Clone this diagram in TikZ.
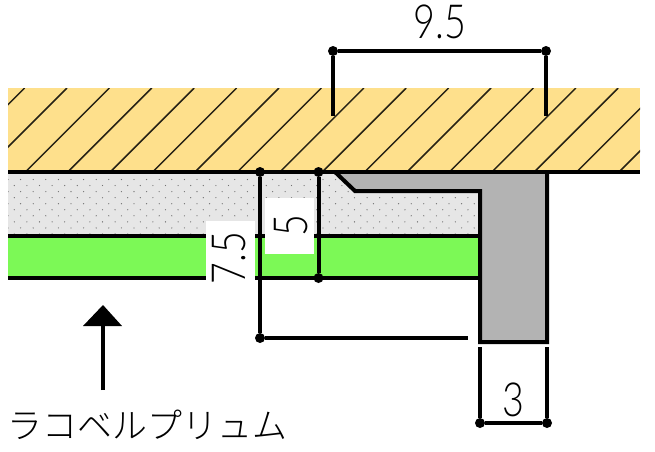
\documentclass[tikz,border=0pt]{standalone}
\usepackage{fontspec}
\usepackage{xcolor}
\usetikzlibrary{positioning}
\newfontfamily\dimfont[FakeStretch=0.8]{Lato Light}
\newfontfamily\jpfont{Noto Sans CJK JP Light}
\definecolor{wood}{HTML}{FEE08C}
\definecolor{fill-gray}{HTML}{E6E6E6}
\definecolor{fill-green}{HTML}{7CF956}
\definecolor{frame-gray}{HTML}{B3B3B3}
\tikzset{
	dimdot/.style={circle, fill=black, inner sep=0pt, minimum size=10pt},
	dimline/.style={line width=4pt, black},
	layerline/.style={line width=4pt, black},
	dimlabel/.style={inner sep=0pt, font=\dimfont\fontsize{47}{47}\selectfont},
	whitebox/.style={fill=white, inner sep=0pt}
}

\begin{document}
\begin{tikzpicture}[x=1pt, y=-1pt]
	\useasboundingbox (0,0) rectangle (655,451);

	% ceiling board with hatching
	\fill[wood] (8,88) rectangle (640,172);
	\begin{scope}
		\clip (8,88) rectangle (640,172);
		\foreach \hx in {0,...,19} {
			\draw[line width=1.5pt, black!85!wood] ({24.6+42.4*\hx},88) -- ++(-84,84);
		}
	\end{scope}

	% dotted layer and green layer
	\fill[fill-gray] (8,172) rectangle (480,236);
	\begin{scope}
		\clip (8,174) rectangle (478,234);
		\foreach \row in {0,...,9} {
			\foreach \col in {0,...,38} {
				\pgfmathsetmacro{\dotx}{8+12.6*\col+6.3*mod(\row,2)}
				\fill[black!55] (\dotx,{179.5+6.05*\row}) circle (0.65);
			}
		}
	\end{scope}
	\fill[fill-green] (8,236) rectangle (480,278);

	% metal frame
	\coordinate (f1) at (335,172);
	\coordinate (f2) at (355,191);
	\coordinate (f3) at (480,191);
	\coordinate (f4) at (480,342);
	\coordinate (f5) at (547,342);
	\coordinate (f6) at (547,172);
	\fill[frame-gray] (f1) -- (f2) -- (f3) -- (f4) -- (f5) -- (f6) -- cycle;
	\draw[layerline, line join=miter] (f1) -- (f2) -- (f3) -- (f4) -- (f5) -- (f6);

	% layer lines
	\coordinate (top-l) at (8,172);
	\coordinate (top-r) at (640,172);
	\coordinate (mid-l) at (8,236);
	\coordinate (mid-r) at (480,236);
	\coordinate (low-l) at (8,278);
	\coordinate (low-r) at (480,278);
	\draw[layerline] (top-l) -- (top-r);
	\draw[layerline] (mid-l) -- (mid-r);
	\draw[layerline] (low-l) -- (low-r);

	% white label patches
	\node[whitebox, minimum width=49pt, minimum height=64pt] at (230.5,253) (box75) {};
	\node[whitebox, minimum width=49pt, minimum height=56pt] at (289.5,226) (box5) {};

	% dimensions
	\node[dimdot] at (333,51) (w-l) {};
	\node[dimdot] at (546,51) (w-r) {};
	\coordinate (w-lb) at (333,116);
	\coordinate (w-rb) at (546,116);
	\draw[dimline] (w-lb) -- (w-l) -- (w-r) -- (w-rb);
	\node[dimlabel] at (440,22) (w-label) {9.5};

	\node[dimdot] at (260,172) (a-t) {};
	\node[dimdot] at (260,338) (a-b) {};
	\coordinate (a-e) at (468,338);
	\draw[dimline] (a-t) -- (a-b) -- (a-e);
	\node[dimlabel, rotate=90] at (229,258) (a-label) {7.5};

	\node[dimdot] at (318.5,172) (b-t) {};
	\node[dimdot] at (318.5,278) (b-b) {};
	\draw[dimline] (b-t) -- (b-b);
	\node[dimlabel, rotate=90] at (291,226) (b-label) {5};

	\node[dimdot] at (480,423) (c-l) {};
	\node[dimdot] at (547,423) (c-r) {};
	\coordinate (c-lt) at (480,347);
	\coordinate (c-rt) at (547,347);
	\draw[dimline] (c-lt) -- (c-l) -- (c-r) -- (c-rt);
	\node[dimlabel] at (513,400) (c-label) {3};

	% arrow to the product name
	\coordinate (arrow-s) at (103,390);
	\coordinate (arrow-b) at (103,325);
	\coordinate (head-l) at (83,326);
	\coordinate (head-r) at (122,326);
	\coordinate (head-t) at (103,305);
	\draw[line width=4pt] (arrow-s) -- (arrow-b);
	\fill (head-l) -- (head-t) -- (head-r) -- cycle;
	\node[inner sep=0pt, font=\jpfont\fontsize{34.9}{34.9}\selectfont] at (147.5,425) (name) {ラコベルプリュム};
\end{tikzpicture}
\end{document}
